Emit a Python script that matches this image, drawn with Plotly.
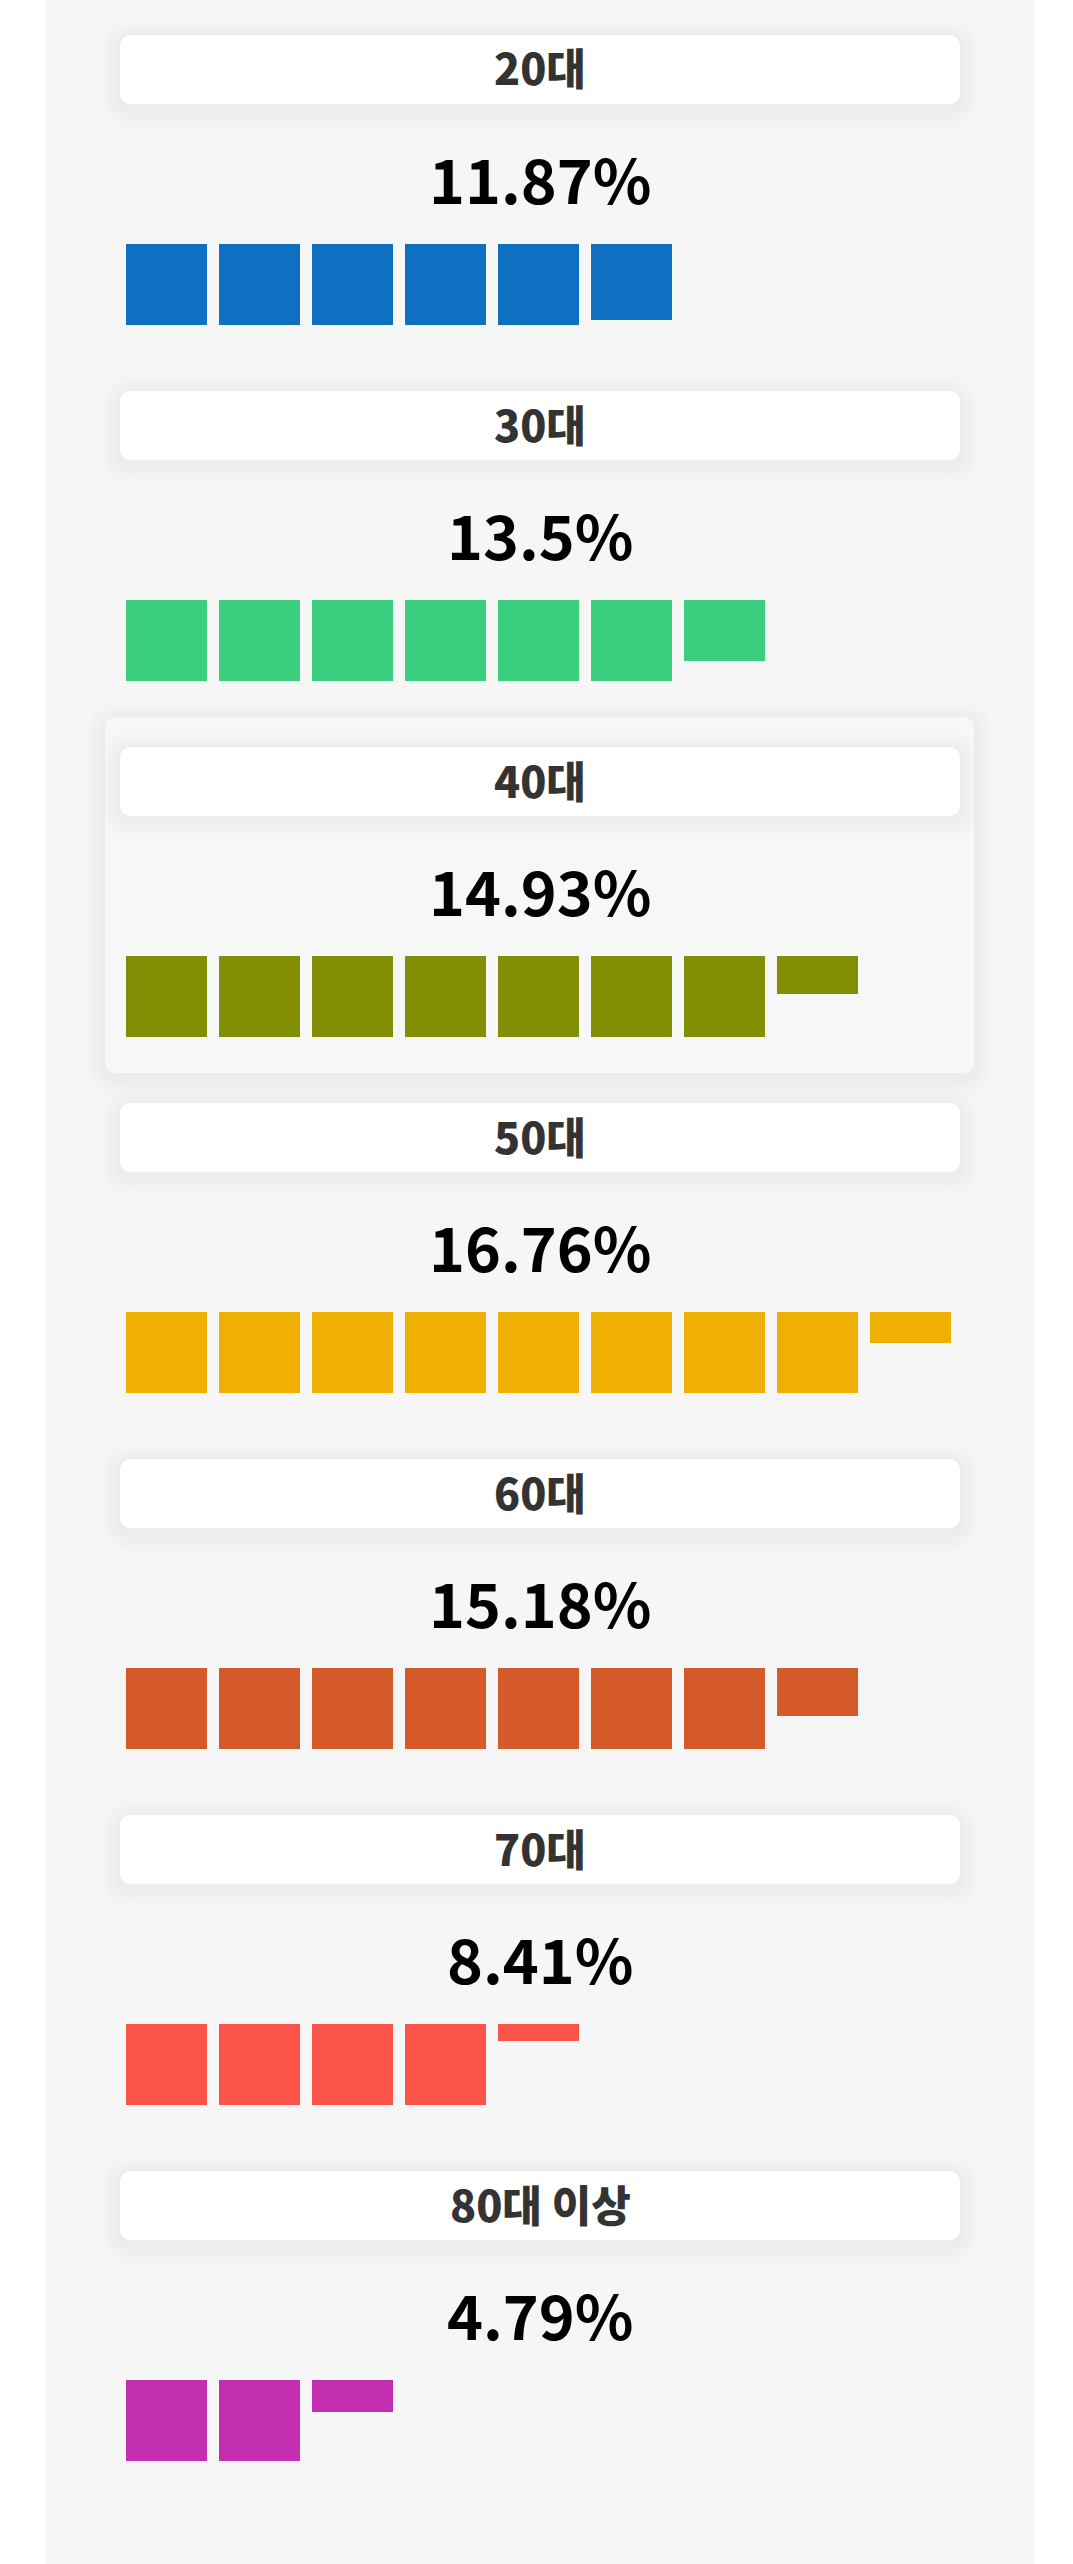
import math
import plotly.graph_objects as go

# ---- data ----
age_groups = ["20대", "30대", "40대", "50대", "60대", "70대", "80대 이상"]
shares = [11.87, 13.5, 14.93, 16.76, 15.18, 8.41, 4.79]
bar_colors = ["#0F6FC1", "#3ACE7E", "#828E04", "#EFB003", "#D55A29", "#FC534B", "#C42FB2"]
percent_per_square = 2.0
highlighted = "40대"

# ---- layout constants (pixels) ----
W, H = 1073, 2564
PANEL_X0, PANEL_X1 = 46, 1034
SEC_TOP0, SEC_PITCH = 5, 356
HDR_X0, HDR_X1, HDR_DY, HDR_H = 120, 960, 30, 69
SQ_DY, SQ_SIZE, SQ_PITCH, SQ_X0 = 239, 81, 93, 126
CENTER_X = 540


def px(x):
    return x / W


def py(y):
    return 1 - y / H


def rounded_path(x0, y0, x1, y1, r):
    X = lambda v: f"{px(v):.6f}"
    Y = lambda v: f"{py(v):.6f}"
    return (f"M {X(x0 + r)},{Y(y0)} L {X(x1 - r)},{Y(y0)} Q {X(x1)},{Y(y0)} {X(x1)},{Y(y0 + r)} "
            f"L {X(x1)},{Y(y1 - r)} Q {X(x1)},{Y(y1)} {X(x1 - r)},{Y(y1)} "
            f"L {X(x0 + r)},{Y(y1)} Q {X(x0)},{Y(y1)} {X(x0)},{Y(y1 - r)} "
            f"L {X(x0)},{Y(y0 + r)} Q {X(x0)},{Y(y0)} {X(x0 + r)},{Y(y0)} Z")


shapes = []
annotations = []

# gray panel
shapes.append(dict(type="rect", xref="paper", yref="paper", x0=px(PANEL_X0), x1=px(PANEL_X1),
                   y0=0, y1=1, fillcolor="#F6F6F6", line_width=0, layer="below"))


def add_shadowed_box(x0, y0, x1, y1, r, fill, strength=1.0):
    layers = 10
    for i in range(layers, 0, -1):
        g = i * 2.0
        shapes.append(dict(type="path", xref="paper", yref="paper",
                           path=rounded_path(x0 - g, y0 - g + 4, x1 + g, y1 + g + 4, r + g),
                           fillcolor=f"rgba(170,172,188,{0.016 * strength:.3f})", line_width=0, layer="below"))
    shapes.append(dict(type="path", xref="paper", yref="paper",
                       path=rounded_path(x0, y0, x1, y1, r), fillcolor=fill, line_width=0, layer="below"))


fig = go.Figure()

x_left = (0 - (SQ_X0 + SQ_SIZE / 2)) / SQ_PITCH
x_right = (W - (SQ_X0 + SQ_SIZE / 2)) / SQ_PITCH

for k, (label, val, col) in enumerate(zip(age_groups, shares, bar_colors)):
    top = SEC_TOP0 + SEC_PITCH * k
    if label == highlighted:
        add_shadowed_box(105, top, 974, top + SEC_PITCH, 12, "#F7F7F7", strength=0.8)
    add_shadowed_box(HDR_X0, top + HDR_DY, HDR_X1, top + HDR_DY + HDR_H, 12, "#FFFFFF")

    annotations.append(dict(xref="paper", yref="paper", x=px(CENTER_X), y=py(top + HDR_DY + HDR_H / 2 - 3),
                            text=label, showarrow=False, xanchor="center", yanchor="middle",
                            font=dict(family="Noto Sans CJK KR", size=43, color="#333333", weight=900)))
    annotations.append(dict(xref="paper", yref="paper", x=px(CENTER_X), y=py(top + 172),
                            text=f"<b>{val}%</b>", showarrow=False, xanchor="center", yanchor="middle",
                            font=dict(family="Noto Sans CJK KR", size=61, color="#000000")))

    units = val / percent_per_square
    n_full = int(math.floor(units))
    heights = [1.0] * n_full
    frac = units - n_full
    if frac > 1e-9:
        heights.append(frac)
    idx = list(range(len(heights)))

    ax = "" if k == 0 else str(k + 1)
    fig.add_trace(go.Bar(x=idx, y=heights, base=0, width=SQ_SIZE / SQ_PITCH,
                         marker=dict(color=col, line=dict(width=0)),
                         xaxis="x" + ax, yaxis="y" + ax, showlegend=False, hoverinfo="skip"))

    sq_top = top + SQ_DY
    fig.layout["xaxis" + ax] = dict(domain=[0, 1], range=[x_left, x_right], visible=False,
                                    anchor="y" + ax, fixedrange=True)
    fig.layout["yaxis" + ax] = dict(domain=[py(sq_top + SQ_SIZE), py(sq_top)], range=[1, 0],
                                    visible=False, anchor="x" + ax, fixedrange=True)

fig.update_layout(width=W, height=H, autosize=False, margin=dict(l=0, r=0, t=0, b=0),
                  paper_bgcolor="#FFFFFF", plot_bgcolor="rgba(0,0,0,0)",
                  shapes=shapes, annotations=annotations, bargap=0, showlegend=False)

fig.write_html("out.html", config={"displayModeBar": False},
               post_script="document.body.style.margin='0';document.body.style.padding='0';")
